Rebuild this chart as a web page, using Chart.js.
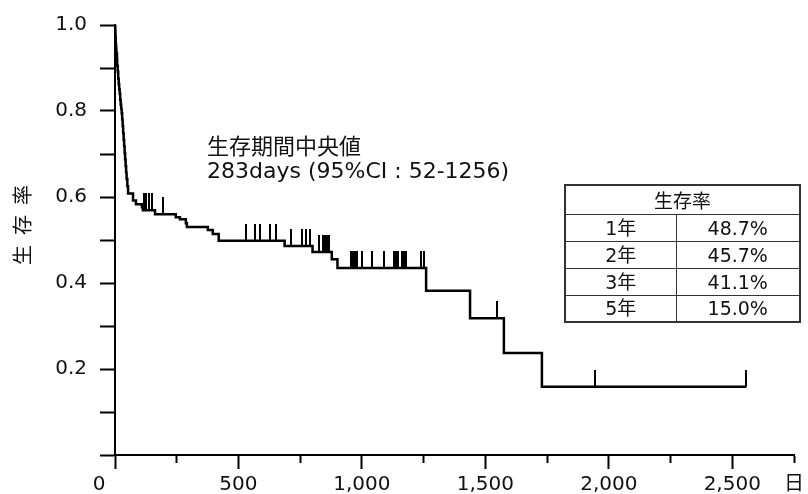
<!DOCTYPE html>
<html>
<head>
<meta charset="utf-8">
<script src="https://cdn.jsdelivr.net/npm/chart.js@4.4.1/dist/chart.umd.min.js"></script>
<style>
  html, body { margin:0; padding:0; background:#fff; }
  #wrap { position:relative; width:808px; height:494px; overflow:hidden; }
  canvas { position:absolute; left:0; top:0; }
  .note { position:absolute; left:207px; font-family:"DejaVu Sans","Noto Sans CJK JP",sans-serif; color:#111; white-space:nowrap; }
  #n1 { top:130px; font-size:22px; font-family:"Noto Sans CJK JP","DejaVu Sans",sans-serif; line-height:28px; }
  #n2 { top:157px; font-size:22px; line-height:27px; }
  table.surv { position:absolute; left:564px; top:184px; width:237px; border-collapse:collapse;
    font-family:"DejaVu Sans","Noto Sans CJK JP",sans-serif; font-size:19px; color:#111; border:2px solid #333; }
  table.surv td, table.surv th { border:1.5px solid #333; text-align:center; padding:0; font-weight:normal;
    height:27px; line-height:22px; box-sizing:border-box; }
  table.surv th { font-size:19px; font-family:"Noto Sans CJK JP",sans-serif; height:29px; }
</style>
</head>
<body>
<div id="wrap">
  <canvas id="c" width="808" height="494"></canvas>
  <div class="note" id="n1">生存期間中央値</div>
  <div class="note" id="n2">283days (95%CI : 52-1256)</div>
  <table class="surv" id="tbl"></table>
</div>
<script>
// ---- data ----
const times = [0,1,2,3,4,5,6,8,9,11,13,15,17,19,21,23,25,27,29,31,33,35,37,39,41,43,45,47,50,53,73,85,109,113,162,246,263,287,291,376,396,420,687,800,878,901,1260,1438,1575,1729,2557];
const survival = [1.0,0.985,0.971,0.957,0.949,0.940,0.934,0.920,0.905,0.892,0.875,0.862,0.850,0.840,0.826,0.815,0.805,0.795,0.780,0.765,0.748,0.733,0.718,0.702,0.687,0.672,0.657,0.642,0.625,0.608,0.592,0.583,0.576,0.569,0.560,0.553,0.548,0.539,0.530,0.523,0.514,0.498,0.486,0.472,0.455,0.435,0.382,0.318,0.237,0.159,0.159];
const censorTimes = [118,126,137,149,194,532,565,586,628,652,711,759,775,788,828,844,852,860,868,957,961,969,977,981,1002,1042,1090,1131,1139,1147,1163,1171,1179,1240,1252,1548,1945,2557];
const xTickValues = [0,500,1000,1500,2000,2500,2750];
const xTickLabels = ['0','500','1,000','1,500','2,000','2,500','日'];
const yTickLabels = ['0.2','0.4','0.6','0.8','1.0'];
const yTitle = '生存率';
const tableHeader = '生存率';
const tableYears = ['1年','2年','3年','5年'];
const tableRates = ['48.7%','45.7%','41.1%','15.0%'];

// ---- table ----
const tbl = document.getElementById('tbl');
let html = '<tr><th colspan="2">' + tableHeader + '</th></tr>';
tableYears.forEach((y,i)=>{ html += '<tr><td style="width:111px">'+y+'</td><td>'+tableRates[i]+'</td></tr>'; });
tbl.innerHTML = html;

function survAt(t){ let s = survival[0]; for (let i=0;i<times.length;i++){ if (times[i] <= t) s = survival[i]; } return s; }

// censor mark: vertical line rising from the point
const mark = document.createElement('canvas');
mark.width = 2; mark.height = 34;
const mctx = mark.getContext('2d');
mctx.fillStyle = '#000'; mctx.fillRect(0,0,2,17);

const LAT = '"DejaVu Sans", "Noto Sans CJK JP", sans-serif';
const CJK = '"Noto Sans CJK JP", sans-serif';

new Chart(document.getElementById('c'), {
  type: 'line',
  data: {
    datasets: [
      { data: times.map((t,i)=>({x:t, y:survival[i]})), stepped: 'before', borderColor:'#000', borderWidth:2.5,
        pointRadius:0, fill:false, tension:0 },
      { data: censorTimes.map(t=>({x:t, y:survAt(t)})), showLine:false, pointStyle: mark, pointRadius: 10,
        borderColor:'#000', backgroundColor:'#000' }
    ]
  },
  options: {
    responsive:false, animation:false,
    layout: { padding: { top:21, right:12, left:0, bottom:0 } },
    plugins: { legend:{display:false}, tooltip:{enabled:false} },
    scales: {
      x: {
        type:'linear', min:0, max:2750,
        afterFit: s => { s.height = 39; },
        afterBuildTicks: s => { s.ticks = []; for (let v=0; v<=2750; v+=250) s.ticks.push({value:v}); },
        ticks: { autoSkip:false, maxRotation:0, padding:4, color:'#111', font:{family:LAT, size:20},
          callback: v => { const i = xTickValues.indexOf(v); if (i<0) return ''; return i===0 ? xTickLabels[0] + '\u00a0\u00a0\u00a0\u00a0\u00a0' : xTickLabels[i]; } },
        grid: { drawOnChartArea:false, drawTicks:true, tickLength:14, tickColor:'#000', tickWidth:2,
          tickBorderDash: ctx => (ctx.tick && (ctx.tick.value % 500 !== 0 || ctx.tick.value === 2750)) ? [7, 60] : [] },
        border: { display:true, color:'#000', width:2 }
      },
      y: {
        type:'linear', min:0, max:1,
        afterFit: s => { s.width = 115; },
        ticks: { stepSize:0.1, padding:13, color:'#111', font:{family:LAT, size:20},
          callback: v => { const l = Number(v).toFixed(1); return yTickLabels.includes(l) ? l : ''; } },
        grid: { drawOnChartArea:false, drawTicks:true, tickLength:15, tickColor:'#000', tickWidth:2 },
        border: { display:true, color:'#000', width:2 },
        title: { display:true, text:'\u3000\u2002' + yTitle.split('').join('\u2002'), color:'#111',
          font:{family:CJK, size:20}, padding:{top:10, bottom:0} }
      }
    }
  }
});
</script>
</body>
</html>
